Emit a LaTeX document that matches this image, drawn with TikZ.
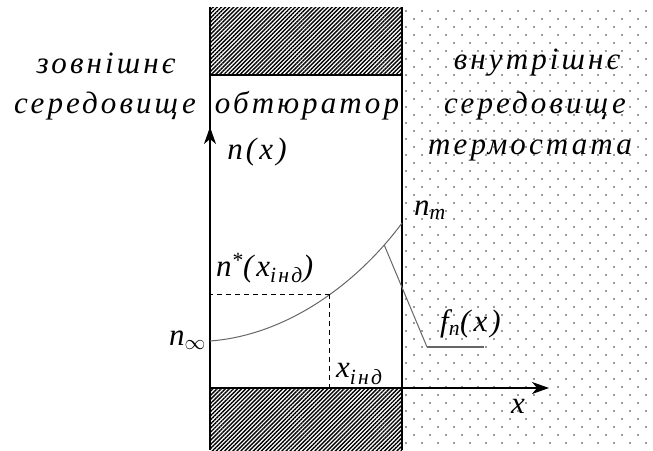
\documentclass[tikz,border=0pt]{standalone}
\usepackage{fontspec}
\setmainfont{Liberation Serif}[LetterSpace=10]
\usetikzlibrary{patterns.meta, arrows.meta}

\begin{document}
\begin{tikzpicture}[x=1pt, y=-1pt,
  every node/.style={font=\fontsize{31}{34}\selectfont\itshape, inner sep=0pt},
  hatch/.style={pattern={Lines[angle=45, distance=2.9pt, line width=1.4pt]}},
  dotmark/.style={fill=black!80},
  wall/.style={line width=1.2pt},
  axis/.style={line width=1.2pt, -{Stealth[length=17pt, width=12pt, inset=5pt]}},
  curve/.style={line width=1pt, black!60},
  guide/.style={dash pattern=on 5pt off 4pt, line width=0.9pt}
]
  \useasboundingbox (0,0) rectangle (653,450);

  % regions
  \foreach \i in {0,...,54}
    \foreach \j in {0,...,15}
      \fill[dotmark] ({406+8*mod(\i,2)+16*\j},{11+8*\i}) circle (0.9pt);
  \fill[hatch] (210,7) rectangle (402,75);
  \fill[hatch] (210,388) rectangle (402,450);
  \draw[wall] (210,7) -- (210,450);
  \draw[wall] (402,7) -- (402,450);
  \draw[wall] (210,75) -- (402,75);
  \draw[wall] (210,388) -- (402,388);

  % axes
  \coordinate (o) at (210,388);
  \coordinate (ytip) at (210,127);
  \coordinate (xtip) at (549,388);
  \draw[axis] (o) -- (ytip);
  \draw[axis] (o) -- (xtip);

  % profile n(x)
  \coordinate (ninf) at (210,341);
  \coordinate (nm) at (402,223);
  \draw[curve] (ninf) .. controls (290,335) and (360,280) .. (nm)
    coordinate[pos=0.55] (pstar)
    coordinate[pos=0.87] (pf);
  \draw[guide] (pstar) -- (pstar -| o);
  \draw[guide] (pstar) -- (pstar |- o);

  % distribution f_n(x)
  \coordinate (fa) at (427,347);
  \coordinate (fb) at (484,347);
  \draw[curve] (pf) -- (fa);
  \draw[curve, line width=1.6pt] (fa) -- (fb);

  % labels
  \node (outer1) at (106,63) {зовнішнє};
  \node (outer2) at (105,106) {середовище};
  \node (obt) at (307,106) {обтюратор};
  \node (inner1) at (537,63) {внутрішнє};
  \node (inner2) at (535,106) {середовище};
  \node (inner3) at (530,150) {термостата};
  \node (nlab) at (257,152) {n(x)};
  \node[anchor=west] (nmlab) at (414,210) {n\textsubscript{m}};
  \node[anchor=west] (pslab) at (216,268) {n\textsuperscript{*}(x\textsubscript{інд})};
  \node[anchor=east] (ninflab) at (206,340) {n\textsubscript{$\infty$}};
  \node[anchor=west] (xilab) at (336,374) {x\textsubscript{інд}};
  \node[anchor=west] (fnlab) at (440,324) {f\textsubscript{n}(x)};
  \node (xlab) at (518,406) {x};
\end{tikzpicture}
\end{document}
